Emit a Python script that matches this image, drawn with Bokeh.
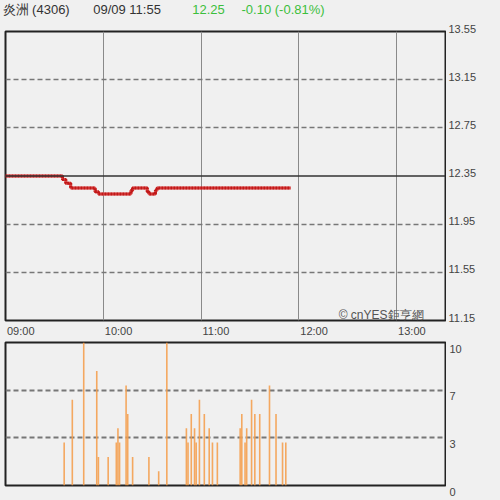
from bokeh.plotting import figure
from bokeh.models import FixedTicker, Range1d, Span, Label
from bokeh.layouts import column, row
from bokeh.embed import file_html
from bokeh.resources import INLINE

# ---- header texts ----
stock_name = "炎洲 (4306)"
stamp = "09/09 11:55"
last_price = "12.25"
change_text = "-0.10 (-0.81%)"
watermark = "© cnYES鉅亨網"

# ---- axes ----
prev_close = 12.35
price_ticks = [11.15, 11.55, 11.95, 12.35, 12.75, 13.15, 13.55]
time_ticks = [0, 60, 120, 180, 240]          # minutes after 09:00
time_labels = ["09:00", "10:00", "11:00", "12:00", "13:00"]
session_minutes = 270                         # 09:00 - 13:30
vol_max = 10
vol_ticks = [0, 10 / 3, 20 / 3, 10]
vol_labels = ["0", "3", "7", "10"]

# ---- price (step changes, minutes after 09:00) ----
price_min = [0, 35, 37, 40, 55, 57, 77, 78, 87, 88, 92, 93, 175]
price_val = [12.35, 12.32, 12.29, 12.25, 12.22, 12.20, 12.23, 12.25,
             12.22, 12.20, 12.23, 12.25, 12.25]

# ---- volume ----
vol_min = [36, 41, 48, 56, 57, 63, 68, 69, 70, 74, 75, 78, 88, 94, 99,
           111, 112, 114, 116, 117, 119, 122, 125, 127, 130,
           144, 145, 147, 148, 151, 153, 156, 162, 166, 170, 172]
vol_val = [3, 6, 10, 8, 2, 2, 3, 4, 3, 7, 5, 2, 2, 1, 10,
           4, 3, 5, 4, 3, 6, 5, 4, 3, 3,
           4, 5, 3, 4, 6, 5, 5, 7, 5, 3, 3]

BG = "#f0f0f0"
FONT = "Liberation Sans"
green = "#3cbf3c"
LABEL_COLOR = "#444444"

# layout (pixels)
W = 500
LEFT, RIGHT_STRIP = 5, 54
FRAME_W = 440
UP_TOP, UP_FRAME_H, UP_BOT = 11, 289, 4
XL_H = 16
LO_TOP, LO_FRAME_H, LO_BOT = 2, 143, 15
PLOT_W = LEFT + FRAME_W + 1


def strip(width, height, xr, yr):
    f = figure(width=width, height=height, x_range=xr, y_range=yr,
               output_backend="svg", toolbar_location=None,
               x_axis_location=None, y_axis_location=None,
               min_border=0, background_fill_color=BG, border_fill_color=BG,
               outline_line_color=None, frame_align=False)
    f.xgrid.visible = False
    f.ygrid.visible = False
    return f


def panel(height, xr, yr, top, bottom):
    f = figure(width=PLOT_W, height=height, x_range=xr, y_range=yr,
               output_backend="svg", toolbar_location=None,
               x_axis_location=None, y_axis_location=None,
               min_border_left=LEFT, min_border_right=1,
               min_border_top=top, min_border_bottom=bottom,
               background_fill_color=BG, border_fill_color=BG,
               outline_line_color="#222222", outline_line_width=2, frame_align=False)
    return f


# ---------- header strip ----------
hd = strip(W, 20, Range1d(0, W), Range1d(20, 0))
header = [(2, stock_name, "#333333"), (92.7, stamp, "#333333"),
          (191.7, last_price, green), (241, change_text, green)]
for hx, txt, col in header:
    hd.add_layout(Label(x=hx, y=9, text=txt, text_font=FONT, text_font_size="13px",
                        text_color=col, text_align="left", text_baseline="middle"))

# ---------- price panel ----------
x_range = Range1d(0, session_minutes)
p_lo, p_hi = price_ticks[0], price_ticks[-1]
up_h = UP_TOP + UP_FRAME_H + UP_BOT
up = panel(up_h, x_range, Range1d(p_lo, p_hi), UP_TOP, UP_BOT)

up.xgrid.ticker = FixedTicker(ticks=time_ticks[1:])
up.xgrid.grid_line_color = "#8a8a8a"
up.xgrid.grid_line_width = 1
up.ygrid.ticker = FixedTicker(ticks=[t for t in price_ticks[1:-1] if t != prev_close])
up.ygrid.grid_line_color = "#777777"
up.ygrid.grid_line_width = 1.5
up.ygrid.grid_line_dash = "5 3"

up.add_layout(Span(location=prev_close, dimension="width", line_color="#333333", line_width=1.5))

up.step(price_min, price_val, mode="after", line_color="#e05050", line_width=3)
up.step(price_min, price_val, mode="after", line_color="#c01818", line_width=3, line_dash="2 1")

up.add_layout(Label(x=session_minutes, y=p_lo, x_offset=-22, y_offset=6,
                    text=watermark, text_font=FONT, text_font_size="12px",
                    text_color="#555555", text_align="right", text_baseline="middle"))

# right-hand price labels (strip with the same vertical scale)
kp = (p_hi - p_lo) / UP_FRAME_H
yl_up = strip(RIGHT_STRIP, up_h, Range1d(0, RIGHT_STRIP),
              Range1d(p_lo - UP_BOT * kp, p_hi + UP_TOP * kp))
for t in price_ticks:
    yl_up.add_layout(Label(x=2, y=t, y_offset=3, text=f"{t:.2f}", text_font=FONT,
                           text_font_size="11px", text_color=LABEL_COLOR,
                           text_align="left", text_baseline="middle"))

# time labels (strip with the same horizontal scale)
km = session_minutes / FRAME_W
xl = strip(W, XL_H, Range1d(-LEFT * km, session_minutes + (W - LEFT - FRAME_W) * km),
           Range1d(XL_H, 0))
for t, lab in zip(time_ticks, time_labels):
    xl.add_layout(Label(x=t, y=0, x_offset=1.5, text=lab, text_font=FONT,
                        text_font_size="11px", text_color=LABEL_COLOR,
                        text_align="left", text_baseline="top"))

# ---------- volume panel ----------
lo_h = LO_TOP + LO_FRAME_H + LO_BOT
lo = panel(lo_h, x_range, Range1d(0, vol_max), LO_TOP, LO_BOT)
lo.xgrid.visible = False
lo.ygrid.ticker = FixedTicker(ticks=vol_ticks[1:-1])
lo.ygrid.grid_line_color = "#777777"
lo.ygrid.grid_line_width = 2
lo.ygrid.grid_line_dash = "5 3"

lo.segment(x0=vol_min, y0=[0] * len(vol_min), x1=vol_min, y1=vol_val,
           line_color="#f4a050", line_width=1.6, line_alpha=0.9)

kv = vol_max / LO_FRAME_H
yl_lo = strip(RIGHT_STRIP, lo_h, Range1d(0, RIGHT_STRIP),
              Range1d(0 - LO_BOT * kv, vol_max + LO_TOP * kv))
for t, lab in zip(vol_ticks, vol_labels):
    yl_lo.add_layout(Label(x=3, y=t, y_offset=-2, text=lab, text_font=FONT,
                           text_font_size="11px", text_color=LABEL_COLOR,
                           text_align="left", text_baseline="top"))

p = column(hd, row(up, yl_up), xl, row(lo, yl_lo), spacing=0,
           styles={"background-color": BG})
open("out.html", "w").write(file_html(p, INLINE))
